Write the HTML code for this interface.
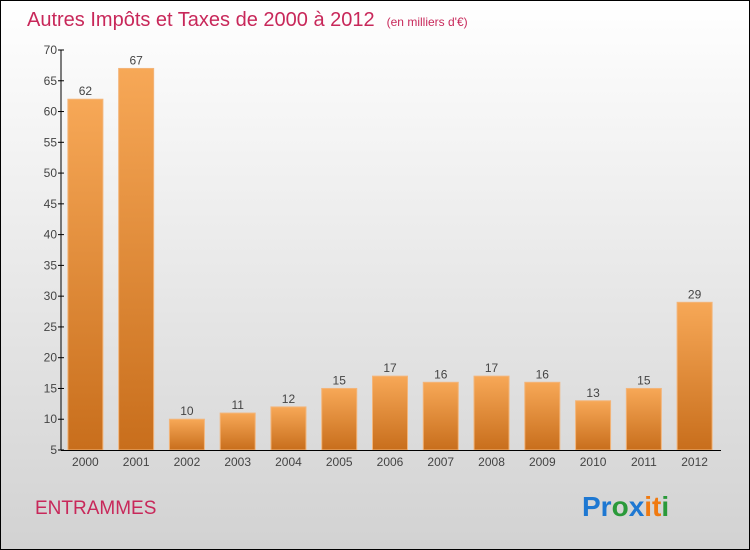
<!DOCTYPE html>
<html><head><meta charset="utf-8"><style>
body{margin:0}
svg{display:block;font-family:"Liberation Sans",sans-serif}
</style></head><body>
<svg id="c" width="750" height="550" xmlns="http://www.w3.org/2000/svg">
<defs>
<linearGradient id="bg" x1="0" y1="0" x2="0" y2="1"><stop offset="0" stop-color="#ffffff"/><stop offset="1" stop-color="#d2d2d2"/></linearGradient>
<linearGradient id="bar" x1="0" y1="0" x2="0" y2="1"><stop offset="0" stop-color="#f7a857"/><stop offset="1" stop-color="#c86e1c"/></linearGradient>
</defs>
<rect x="0.5" y="0.5" width="749" height="549" fill="url(#bg)" stroke="#000"/>
<text x="27" y="26" font-size="20" fill="#c8285a">Autres Impôts et Taxes de 2000 à 2012<tspan dx="12" font-size="12">(en milliers d'€)</tspan></text>
<g id="bars"></g>
<g id="axes"></g>
<text x="35" y="514" font-size="19" fill="#c8285a">ENTRAMMES</text>
<text x="582" y="516" font-size="28" font-weight="bold"><tspan fill="#1e78d2">Pr</tspan><tspan fill="#2a9a3a">o</tspan><tspan fill="#1e78d2">x</tspan><tspan fill="#f07a10">i</tspan><tspan fill="#f07a10">t</tspan><tspan fill="#2a9a3a">i</tspan></text>
</svg>
<script>
const categories=["2000","2001","2002","2003","2004","2005","2006","2007","2008","2009","2010","2011","2012"];
const values=[62,67,10,11,12,15,17,16,17,16,13,15,29];
const ticks=[5,10,15,20,25,30,35,40,45,50,55,60,65,70];
const NS="http://www.w3.org/2000/svg";
const x0=61,x1=721,yMin=5,yMax=70,yTop=50,yBot=450;
const y=v=>yBot-(v-yMin)*(yBot-yTop)/(yMax-yMin);
const step=(x1-x0)/categories.length;
const xc=i=>x0+step*(i+0.5)-1;
function mk(t,a,p){const e=document.createElementNS(NS,t);for(const k in a)e.setAttribute(k,a[k]);p.appendChild(e);return e;}
const gb=document.getElementById('bars'),ga=document.getElementById('axes');
values.forEach((v,i)=>{
 const r=mk('rect',{x:xc(i)-17.5,y:y(v),width:35,height:yBot-y(v),fill:'url(#bar)',stroke:'#f3b57a','stroke-width':1},gb);
 
 
 const t=mk('text',{x:xc(i),y:y(v)-4,'font-size':12,'text-anchor':'middle',fill:'#444'},gb);
 t.textContent=v;
 
 
 const l=mk('text',{x:xc(i),y:466,'font-size':12,'text-anchor':'middle',fill:'#444'},ga);
 l.textContent=categories[i];
 
 
});
const ya=mk('line',{x1:x0,y1:yTop,x2:x0,y2:yBot,stroke:'#000'},ga);


const xa=mk('line',{x1:x0,y1:yBot+0.5,x2:x1,y2:yBot+0.5,stroke:'#000'},ga);


ticks.forEach(v=>{
 mk('line',{x1:x0-3,y1:y(v),x2:x0+3,y2:y(v),stroke:'#000'},ga);
 const t=mk('text',{x:x0-4,y:y(v)+4,'font-size':12,'text-anchor':'end',fill:'#444'},ga);
 t.textContent=v;
 
 
});
</script>
</body></html>
